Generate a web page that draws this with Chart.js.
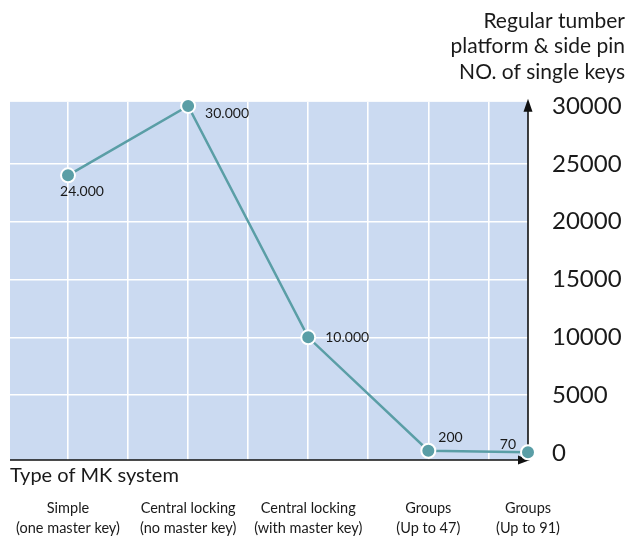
<!DOCTYPE html>
<html>
<head>
<meta charset="utf-8">
<script src="https://cdn.jsdelivr.net/npm/chart.js@4.4.0/dist/chart.umd.min.js"></script>
<style>
  html, body { margin: 0; padding: 0; background: #fff; }
  #wrap { width: 628px; height: 538px; }
</style>
</head>
<body>
<div id="wrap"><canvas id="chart"></canvas></div>
<script>
  // categories (two-line labels) and where they sit on the x axis
  const systemTypes = [
    ["Simple", "(one master key)"],
    ["Central locking", "(no master key)"],
    ["Central locking", "(with master key)"],
    ["Groups", "(Up to 47)"],
    ["Groups", "(Up to 91)"],
  ];
  const slotPositions = [0, 1, 2, 3, 3.83];
  const singleKeys = [24000, 30000, 10000, 200, 70];
  const valueLabels = ["24.000", "30.000", "10.000", "200", "70"];
  const yTicks = [0, 5000, 10000, 15000, 20000, 25000, 30000];
  const xGridTicks = [0, 0.5, 1, 1.5, 2, 2.5, 3, 3.5];
  const yTitle = ["Regular tumber", "platform & side pin", "NO. of single keys"];
  const xTitle = "Type of MK system";

  const FONT = "Lato, 'Open Sans', sans-serif";
  const TEAL = "#5a9ea6";

  const bgPlugin = {
    id: "bg",
    beforeDraw(chart) {
      const { ctx, chartArea: a } = chart;
      ctx.save();
      ctx.fillStyle = "#cbdaf1";
      ctx.fillRect(a.left, a.top, a.right - a.left, a.bottom - a.top);
      ctx.restore();
    },
  };

  const axesPlugin = {
    id: "axes",
    beforeDatasetsDraw(chart) {
      const { ctx, chartArea: a } = chart;
      ctx.save();
      ctx.strokeStyle = "#111";
      ctx.fillStyle = "#111";
      ctx.lineWidth = 1.6;
      ctx.beginPath();
      ctx.moveTo(a.left, a.bottom);
      ctx.lineTo(a.right - 8, a.bottom);
      ctx.moveTo(a.right, a.bottom);
      ctx.lineTo(a.right, a.top + 8);
      ctx.stroke();
      // arrow heads
      ctx.beginPath();
      ctx.moveTo(a.right + 2, a.bottom);
      ctx.lineTo(a.right - 10, a.bottom - 4.5);
      ctx.lineTo(a.right - 10, a.bottom + 4.5);
      ctx.closePath();
      ctx.fill();
      ctx.beginPath();
      ctx.moveTo(a.right, a.top - 3);
      ctx.lineTo(a.right - 4.5, a.top + 10);
      ctx.lineTo(a.right + 4.5, a.top + 10);
      ctx.closePath();
      ctx.fill();
      // x axis title, between the axis and the category labels
      ctx.font = "20px " + FONT;
      ctx.fillStyle = "#1a1a1a";
      ctx.textAlign = "left";
      ctx.textBaseline = "middle";
      ctx.fillText(xTitle, a.left, a.bottom + 16);
      ctx.restore();
    },
  };

  const valueLabelPlugin = {
    id: "valueLabels",
    afterDatasetsDraw(chart) {
      const { ctx } = chart;
      const pts = chart.getDatasetMeta(0).data;
      const place = [
        { dx: -8, dy: 16, align: "left" },
        { dx: 17, dy: 8, align: "left" },
        { dx: 17, dy: 0, align: "left" },
        { dx: 10, dy: -13, align: "left" },
        { dx: -12, dy: -8, align: "right" },
      ];
      ctx.save();
      ctx.font = "14px " + FONT;
      ctx.fillStyle = "#1a1a1a";
      ctx.textBaseline = "middle";
      pts.forEach((p, i) => {
        ctx.textAlign = place[i].align;
        ctx.fillText(valueLabels[i], p.x + place[i].dx, p.y + place[i].dy);
      });
      ctx.restore();
    },
  };

  new Chart(document.getElementById("chart"), {
    type: "line",
    data: {
      datasets: [
        {
          data: singleKeys.map((v, i) => ({ x: slotPositions[i], y: v })),
          borderColor: TEAL,
          borderWidth: 2.5,
          pointBackgroundColor: TEAL,
          pointBorderColor: "#fff",
          pointBorderWidth: 2,
          pointRadius: 7,
          tension: 0,
          clip: false,
        },
      ],
    },
    options: {
      responsive: true,
      maintainAspectRatio: false,
      animation: false,
      layout: { padding: { left: 10, right: 3, top: 0, bottom: 0 } },
      plugins: {
        legend: { display: false },
        tooltip: { enabled: false },
        title: {
          display: true,
          text: yTitle,
          align: "end",
          color: "#1a1a1a",
          font: { family: FONT, size: 21, weight: "normal", lineHeight: 1.22 },
          padding: { top: 8, bottom: 17 },
        },
      },
      scales: {
        x: {
          type: "linear",
          min: -0.483,
          max: 3.83,
          afterBuildTicks(scale) {
            scale.ticks = xGridTicks.concat([slotPositions[4]]).map((v) => ({ value: v }));
          },
          afterFit(scale) {
            scale.height = 78;
            scale.paddingLeft = 0;
            scale.paddingRight = 0;
          },
          grid: {
            color: (c) => (c.tick && c.tick.value > 3.6 ? "rgba(0,0,0,0)" : "#ffffff"),
            lineWidth: 1.6,
            drawTicks: false,
          },
          border: { display: false },
          ticks: {
            autoSkip: false,
            maxRotation: 0,
            padding: 38,
            color: "#1a1a1a",
            font: { family: FONT, size: 14.5, lineHeight: 1.4 },
            callback: (v) => {
              const i = slotPositions.indexOf(v);
              return i >= 0 ? systemTypes[i] : "";
            },
          },
        },
        y: {
          position: "right",
          min: -600,
          max: 30350,
          afterBuildTicks(scale) {
            scale.ticks = yTicks.map((v) => ({ value: v }));
          },
          afterFit(scale) {
            scale.width = 97;
            scale.paddingTop = 0;
            scale.paddingBottom = 0;
          },
          grid: {
            color: (c) =>
              c.tick && (c.tick.value === 0 || c.tick.value === 30000) ? "rgba(0,0,0,0)" : "#ffffff",
            lineWidth: 1.6,
            drawTicks: false,
          },
          border: { display: false },
          ticks: {
            padding: 24,
            color: "#1a1a1a",
            font: { family: FONT, size: 24 },
            callback: (v) => String(v),
          },
        },
      },
    },
    plugins: [bgPlugin, axesPlugin, valueLabelPlugin],
  });
</script>
</body>
</html>
